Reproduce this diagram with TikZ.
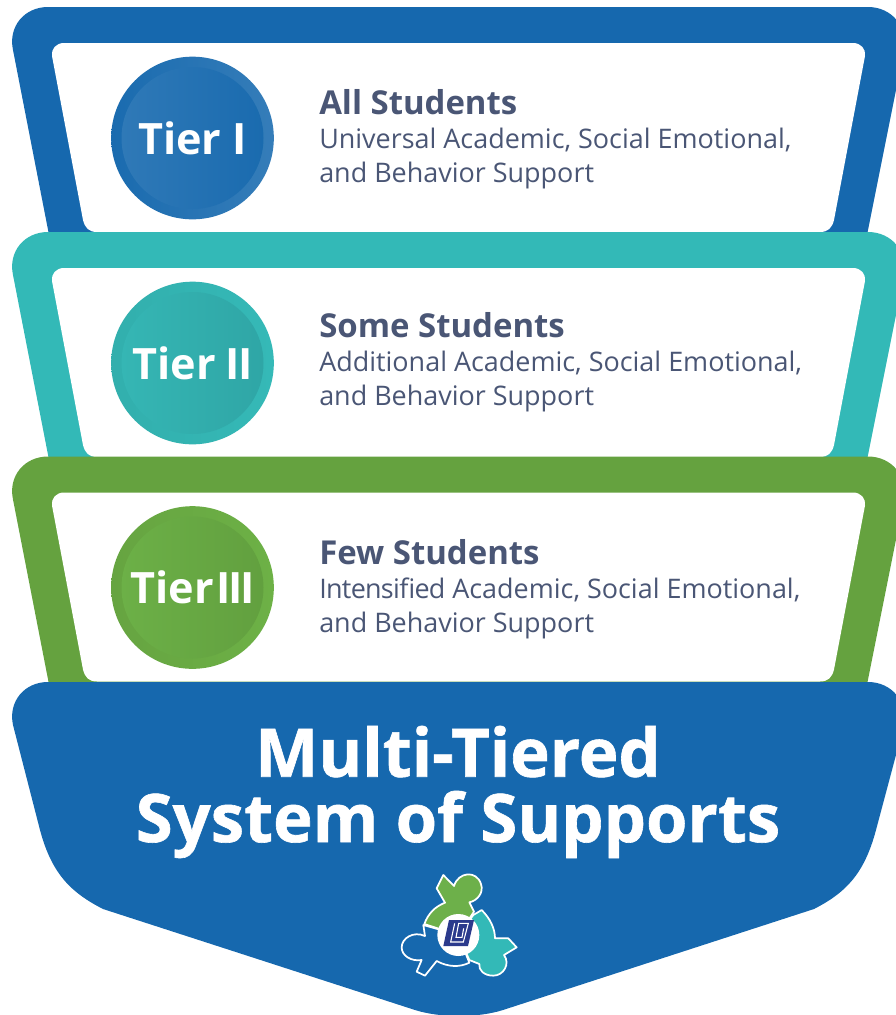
\documentclass[tikz,border=0pt]{standalone}
\usepackage{fontspec}
\setmainfont{Open Sans}
\newfontfamily\heavyfont[BoldFeatures={FakeBold=0.9}]{Open Sans}
\newcommand{\tightword}[1]{{\addfontfeature{LetterSpace=-2.6}#1}}
\definecolor{tierblue}{HTML}{1668AE}
\definecolor{tierteal}{HTML}{33B9B7}
\definecolor{tiergreen}{HTML}{65A23F}
\definecolor{logogreen}{HTML}{6DB04A}
\definecolor{logonavy}{HTML}{2B3A8C}
\definecolor{bodytext}{HTML}{4A5675}
\tikzset{
    titletext/.style={anchor=west, inner sep=0pt, text=bodytext, font=\fontsize{24.7pt}{26pt}\selectfont\bfseries},
    subtext/.style={anchor=west, inner sep=0pt, text=bodytext, font=\fontsize{20.2pt}{25.5pt}\selectfont, align=left},
    tiertext/.style={circle, minimum size=106.5pt, inner sep=0pt, text=white, font=\fontsize{32.4pt}{36pt}\selectfont\bfseries},
    tierring/.style={circle, minimum size=122pt, inner sep=0pt},
    logoline/.style={draw=white, line width=1.3pt, line join=round}
}
\begin{document}
\begin{tikzpicture}[x=0.75pt, y=-0.75pt]
    \useasboundingbox (0,0) rectangle (896,1015);
    \clip (0,0) rectangle (896,1015);

    % Tier frames, top one first
    \foreach \tier/\yoff/\col/\ringa/\ringb/\inna/\innb/\tierlabel/\titlelabel/\sublabel/\titley/\suby in {
        a/0/tierblue/1A6BAF/357DB9/2F79B7/1A6BAF/Tier I/All Students/Universal/102/158.5,
        b/225/tierteal/32AFAD/35B9B7/35B6B4/2FA6A6/Tier\kern7.25pt I\kern-1.5pt I/Some Students/Additional/100/156.5,
        c/449.5/tiergreen/66A441/6DB146/6CB047/62A03F/Tier\kern2pt I\kern-2pt I\kern-2pt I/Few Students/\tightword{Intensified}/102.5/158.5} {
        \begin{scope}[yshift=-\yoff*0.75pt]
            \definecolor{ringa}{HTML}{\ringa}
            \definecolor{ringb}{HTML}{\ringb}
            \definecolor{inna}{HTML}{\inna}
            \definecolor{innb}{HTML}{\innb}
            \fill[\col] (48,7) -- (868,7) .. controls (892,7) and (908,27) .. (904,50)
                -- (866,240) -- (50,240) -- (13,50) .. controls (8,27) and (24,7) .. (48,7) -- cycle;
            \fill[white] (64,43) -- (853,43) .. controls (861,43) and (866,49) .. (865,56)
                -- (834,220) .. controls (832,228) and (828,232) .. (820,232)
                -- (97,232) .. controls (89,232) and (85,228) .. (83,220)
                -- (52,56) .. controls (51,49) and (56,43) .. (64,43) -- cycle;
            % Tier badge
            \node[tierring, left color=ringa, right color=ringb] (ring-\tier) at (192.5,138) {};
            \node[tiertext, left color=inna, right color=innb] (badge-\tier) at (192.5,138) {\tierlabel};
            % Texts
            \node[titletext] (title-\tier) at (319,\titley) {\titlelabel};
            \node[subtext] (sub-\tier) at (319,\suby) {\sublabel\ Academic, Social Emotional,\\and Behavior Support};
        \end{scope}
    }

    % Shield at the bottom
    \fill[tierblue] (48,682) -- (868,682) .. controls (892,682) and (908,702) .. (904,725)
        -- (876,830) .. controls (864,875) and (845,893) .. (814,909)
        -- (503,1010) .. controls (478,1018) and (440,1018) .. (415,1010)
        -- (103,909) .. controls (72,893) and (52,875) .. (40,830)
        -- (13,725) .. controls (8,702) and (24,682) .. (48,682) -- cycle;
    \node[inner sep=0pt, align=center, text=white, font=\fontsize{50.2pt}{49pt}\selectfont\heavyfont\bfseries] (shieldtitle) at (458,792) {Multi-Tiered\\System of Supports};

    % Logo, traced in units of a third of a pixel
    \begin{scope}[shift={(380,860)}, x=0.25pt, y=-0.25pt]
        % Blue figure
        \filldraw[logoline, fill=tierblue] (235,225) -- (130,195) -- (135,228)
            .. controls (100,212) and (65,235) .. (65,262) .. controls (65,288) and (95,305) .. (125,300)
            -- (110,335) -- (135,347) -- (170,303) .. controls (205,322) and (240,322) .. (268,308)
            -- cycle;
        % Teal figure
        \filldraw[logoline, fill=tierteal] (235,225) -- (280,165) -- (305,150) .. controls (330,175) and (345,205) .. (345,235)
            -- (385,235) -- (410,262) -- (372,285) .. controls (392,312) and (370,347) .. (340,347)
            .. controls (312,347) and (295,330) .. (298,312) -- (268,300)
            -- cycle;
        % Green figure
        \filldraw[logoline, fill=logogreen] (235,225) -- (133,192) .. controls (145,160) and (165,140) .. (195,128)
            -- (170,85) -- (190,45) -- (222,78) .. controls (235,35) and (290,30) .. (303,72)
            .. controls (312,98) and (292,122) .. (268,127) -- (282,155)
            -- cycle;
        % Centre
        \fill[white] (235,225) circle[radius=63];
        \fill[logonavy] (207,180) -- (282,180) -- (264,258) -- (190,258) -- cycle;
        \draw[white, line width=0.8pt] (224,190) -- (212,246) -- (250,246) -- (265,190) -- (236,190) -- (228,232) -- (246,232) -- (251,205);
    \end{scope}
\end{tikzpicture}
\end{document}
